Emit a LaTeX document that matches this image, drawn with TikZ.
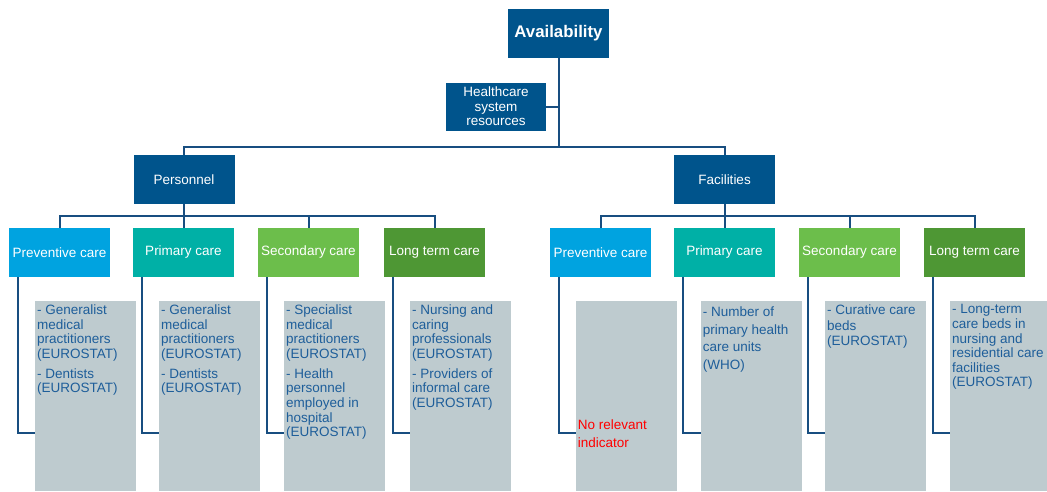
\documentclass[tikz,border=0pt]{standalone}
\usepackage{fontspec}
\setmainfont{Liberation Sans}
\usepackage{tikz}

\definecolor{boxblue}{RGB}{0,84,140}
\definecolor{linkblue}{RGB}{24,78,128}
\definecolor{prevcol}{RGB}{0,163,224}
\definecolor{primcol}{RGB}{0,176,166}
\definecolor{seccol}{RGB}{108,190,75}
\definecolor{longcol}{RGB}{78,151,52}
\definecolor{detailgrey}{RGB}{190,203,207}
\definecolor{itemblue}{RGB}{30,94,154}

\newcommand{\greytext}[1]{\parbox[t][183pt][t]{97pt}{\raggedright #1}}

\begin{document}
\begin{tikzpicture}[x=1pt,y=-1pt]
\tikzstyle{every node}+=[inner sep=0pt, font=\fontsize{13.5}{14.6}\selectfont]
\tikzstyle{hdr}=[fill=boxblue, text=white, minimum width=101, minimum height=49, align=center]
\tikzstyle{care}=[text=white, minimum width=101, minimum height=49]
\tikzstyle{detail}=[fill=detailgrey, text=itemblue, inner xsep=2pt, inner ysep=3.5pt, anchor=north west]
\tikzstyle{link}=[draw=linkblue, line width=2pt]
\useasboundingbox (0,0) rectangle (1047,491);
% top of the tree
\node [hdr, font=\fontsize{16.8}{18}\selectfont\bfseries] (avail) at (558.5,33.5) {Availability};
\node [hdr, minimum width=100, minimum height=48] (hsr) at (496,106.5) {Healthcare\\system\\resources};
\node [hdr] (pers) at (184,179.5) {Personnel};
\node [hdr] (fac) at (724.5,179.5) {Facilities};
\coordinate (bus) at (0,147);
\coordinate (pbus) at (0,216);
\coordinate (fbus) at (0,216);
% personnel branch
\node [care, fill=prevcol] (pc1) at (59.5,252.5) {Preventive care};
\node [care, fill=primcol] (pc2) at (183.5,252.5) {Primary care};
\node [care, fill=seccol] (pc3) at (308.5,252.5) {Secondary care};
\node [care, fill=longcol] (pc4) at (434.5,252.5) {Long term care};
% facilities branch
\node [care, fill=prevcol] (fc1) at (600.5,252.5) {Preventive care};
\node [care, fill=primcol] (fc2) at (724.5,252.5) {Primary care};
\node [care, fill=seccol] (fc3) at (849.5,252.5) {Secondary care};
\node [care, fill=longcol] (fc4) at (974.5,252.5) {Long term care};
% indicators
\node [detail] (pd1) at (35,301) {\greytext{- Generalist\\medical\\practitioners\\(EUROSTAT)\\[5.5pt]- Dentists\\(EUROSTAT)}};
\node [detail] (pd2) at (159,301) {\greytext{- Generalist\\medical\\practitioners\\(EUROSTAT)\\[5.5pt]- Dentists\\(EUROSTAT)}};
\node [detail] (pd3) at (284,301) {\greytext{- Specialist\\medical\\practitioners\\(EUROSTAT)\\[5.5pt]- Health\\personnel\\employed in\\hospital\\(EUROSTAT)}};
\node [detail] (pd4) at (410,301) {\greytext{- Nursing and\\caring\\professionals\\(EUROSTAT)\\[5.5pt]- Providers of\\informal care\\(EUROSTAT)}};
\node [detail] (fd1) at (575.7,301) {\greytext{\vspace*{115.5pt}\fontsize{13.5}{17.3}\selectfont\color{red}No relevant\\indicator}};
\node [detail] (fd2) at (700.7,301) {\greytext{\vspace*{2pt}\fontsize{13.5}{17.7}\selectfont - Number of\\primary health\\care units\\(WHO)}};
\node [detail] (fd3) at (825,301) {\greytext{\fontsize{13.5}{15.7}\selectfont - Curative care\\beds\\(EUROSTAT)}};
\node [detail] (fd4) at (950,301) {\greytext{- Long-term\\care beds in\\nursing and\\residential care\\facilities\\(EUROSTAT)}};
% connectors
\draw [link] (avail.south) -- (avail |- bus);
\draw [link] (hsr.east) -- (hsr.east -| avail.south);
\draw [link] (pers.north) |- (avail |- bus) -| (fac.north);
\draw [link] (pers.south) -- (pers |- pbus);
\draw [link] (pc1.north) |- (pers |- pbus) -| (pc4.north);
\draw [link] (pc2.north) -- (pc2 |- pbus);
\draw [link] (pc3.north) -- (pc3 |- pbus);
\draw [link] (fac.south) -- (fac |- fbus);
\draw [link] (fc1.north) |- (fac |- fbus) -| (fc4.north);
\draw [link] (fc2.north) -- (fc2 |- fbus);
\draw [link] (fc3.north) -- (fc3 |- fbus);
\draw [link] ([xshift=9.3pt]pc1.south west) |- ([yshift=-37pt]pd1.west);
\draw [link] ([xshift=9.3pt]pc2.south west) |- ([yshift=-37pt]pd2.west);
\draw [link] ([xshift=9.3pt]pc3.south west) |- ([yshift=-37pt]pd3.west);
\draw [link] ([xshift=9.3pt]pc4.south west) |- ([yshift=-37pt]pd4.west);
\draw [link] ([xshift=9.3pt]fc1.south west) |- ([yshift=-37pt]fd1.west);
\draw [link] ([xshift=9.3pt]fc2.south west) |- ([yshift=-37pt]fd2.west);
\draw [link] ([xshift=9.3pt]fc3.south west) |- ([yshift=-37pt]fd3.west);
\draw [link] ([xshift=9.3pt]fc4.south west) |- ([yshift=-37pt]fd4.west);
\end{tikzpicture}
\end{document}
